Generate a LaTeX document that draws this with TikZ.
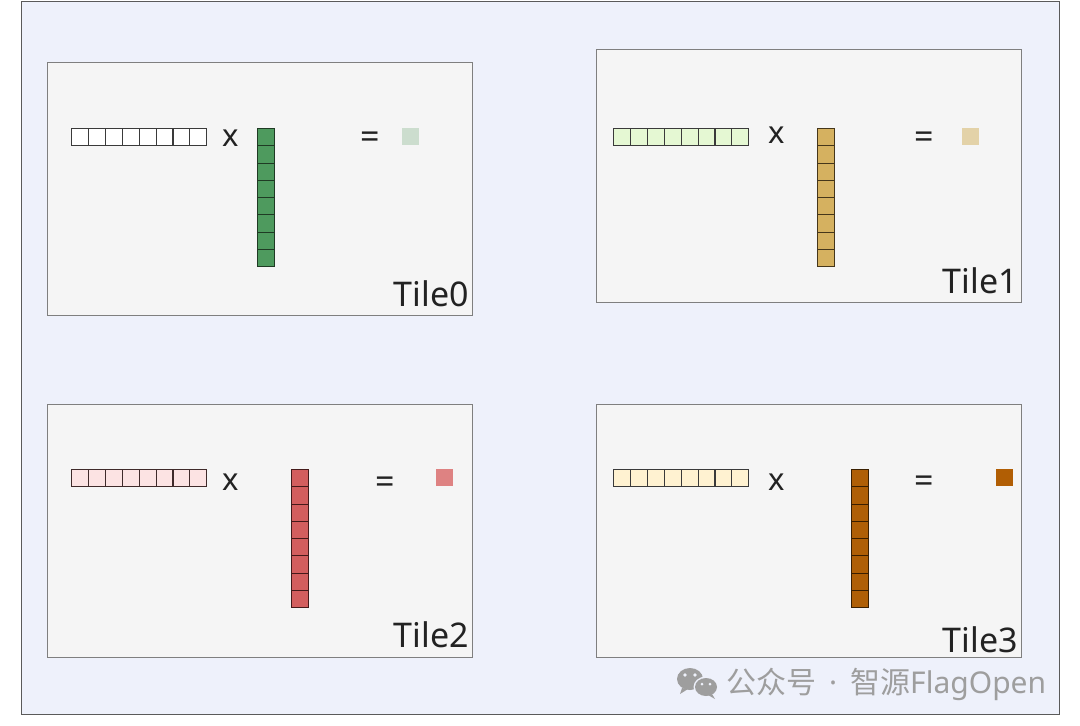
\documentclass[tikz,border=0pt]{standalone}
\usepackage{fontspec}
\setmainfont{Noto Sans}
\newfontfamily\cjkfont{Noto Sans CJK SC}
\definecolor{bgfill}{HTML}{EEF1FB}
\definecolor{bgdraw}{HTML}{5A5A5A}
\definecolor{tilefill}{HTML}{F5F5F5}
\definecolor{tiledraw}{HTML}{7F7F7F}
\definecolor{celldraw}{HTML}{3A3A3A}
\definecolor{txt}{HTML}{222222}
\definecolor{wm}{HTML}{9E9E9E}
\definecolor{rowA}{HTML}{FFFFFF}
\definecolor{colA}{HTML}{4E9A5E}
\definecolor{colAd}{HTML}{1F3A24}
\definecolor{resA}{HTML}{CCDDCE}
\definecolor{rowB}{HTML}{E5F8D3}
\definecolor{colB}{HTML}{D5B160}
\definecolor{colBd}{HTML}{45361A}
\definecolor{resB}{HTML}{E3D2A8}
\definecolor{rowC}{HTML}{FCE3E3}
\definecolor{rowCd}{HTML}{3F2A2A}
\definecolor{colC}{HTML}{D35E5E}
\definecolor{colCd}{HTML}{451A1A}
\definecolor{resC}{HTML}{DE8282}
\definecolor{rowD}{HTML}{FFF2D1}
\definecolor{colD}{HTML}{AF5F06}
\definecolor{colDd}{HTML}{3A1F00}
\definecolor{resD}{HTML}{B15E04}
\begin{document}
\begin{tikzpicture}[x=1pt,y=-1pt,
  outerbox/.style={draw=bgdraw,fill=bgfill,line width=1pt,inner sep=0pt,anchor=north west},
  tilebox/.style={draw=tiledraw,fill=tilefill,line width=0.9pt,inner sep=0pt,anchor=north west,minimum width=425pt,minimum height=253pt},
  rcell/.style={draw=#1,line width=1.1pt,inner sep=0pt,anchor=north west,minimum width=16.9pt,minimum height=17pt},
  ccell/.style={draw=#1,line width=1.1pt,inner sep=0pt,anchor=north west,minimum width=17pt,minimum height=17.25pt},
  rescell/.style={inner sep=0pt,anchor=north west,minimum width=17pt,minimum height=17pt},
  xtext/.style={text=txt,font=\fontsize{31}{31}\selectfont,inner sep=0pt},
  eqtext/.style={text=txt,font=\fontsize{34}{34}\selectfont,inner sep=0pt},
  tilelabel/.style={text=txt,font=\fontsize{34}{34}\selectfont,inner sep=0pt,anchor=base east},
  wmtext/.style={text=wm,font=\fontsize{30}{30}\selectfont,inner sep=0pt,anchor=west}]
\useasboundingbox (0,0) rectangle (1080,726);
\node[outerbox,minimum width=1038pt,minimum height=713pt] (bg) at (21,1) {};
% tiles
\node[tilebox] (t0) at (47,62) {};
\node[tilebox] (t1) at (596,49) {};
\node[tilebox] (t2) at (47,404) {};
\node[tilebox] (t3) at (596,404) {};
% Tile0
\foreach \i in {0,...,7} {
  \node[rcell=celldraw,fill=rowA] (r0-\i) at ({71+16.9*\i},128) {};
  \node[ccell=colAd,fill=colA] (c0-\i) at (257,{128+17.25*\i}) {};
}
\node[xtext] (x0) at (231,138) {x};
\node[eqtext] (e0) at (370,140) {=};
\node[rescell,fill=resA] (s0) at (402,128) {};
\node[tilelabel] (l0) at (469,306) {Tile0};
% Tile1
\foreach \i in {0,...,7} {
  \node[rcell=celldraw,fill=rowB] (r1-\i) at ({613+16.9*\i},128) {};
  \node[ccell=colBd,fill=colB] (c1-\i) at (817,{128+17.25*\i}) {};
}
\node[xtext] (x1) at (777,135) {x};
\node[eqtext] (e1) at (924,140) {=};
\node[rescell,fill=resB] (s1) at (962,128) {};
\node[tilelabel] (l1) at (1018,293) {Tile1};
% Tile2
\foreach \i in {0,...,7} {
  \node[rcell=rowCd,fill=rowC] (r2-\i) at ({71+16.9*\i},469) {};
  \node[ccell=colCd,fill=colC] (c2-\i) at (291,{469+17.25*\i}) {};
}
\node[xtext] (x2) at (231,482) {x};
\node[eqtext] (e2) at (385,485) {=};
\node[rescell,fill=resC] (s2) at (436,469) {};
\node[tilelabel] (l2) at (469,647) {Tile2};
% Tile3
\foreach \i in {0,...,7} {
  \node[rcell=celldraw,fill=rowD] (r3-\i) at ({613+16.9*\i},469) {};
  \node[ccell=colDd,fill=colD] (c3-\i) at (851,{469+17.25*\i}) {};
}
\node[xtext] (x3) at (777,482) {x};
\node[eqtext] (e3) at (924,484) {=};
\node[rescell,fill=resD] (s3) at (996,469) {};
\node[tilelabel] (l3) at (1018,652) {Tile3};
% watermark
\fill[wm] (690,679) ellipse [x radius=13, y radius=11];
\fill[wm] (682,688) -- (680,694) -- (688,689) -- cycle;
\fill[bgfill] (706,687) ellipse [x radius=12.5, y radius=10.5];
\fill[wm] (706,687) ellipse [x radius=11, y radius=9];
\fill[wm] (712,694) -- (715,699) -- (708,695) -- cycle;
\fill[bgfill] (685,675) circle (1.8) (695,675) circle (1.8);
\fill[bgfill] (702,684) circle (1.5) (710,684) circle (1.5);
\node[wmtext] (wmt) at (726,684) {{\cjkfont 公众号}\hspace{13pt}·\hspace{13pt}{\cjkfont 智源}FlagOpen};
\end{tikzpicture}
\end{document}
